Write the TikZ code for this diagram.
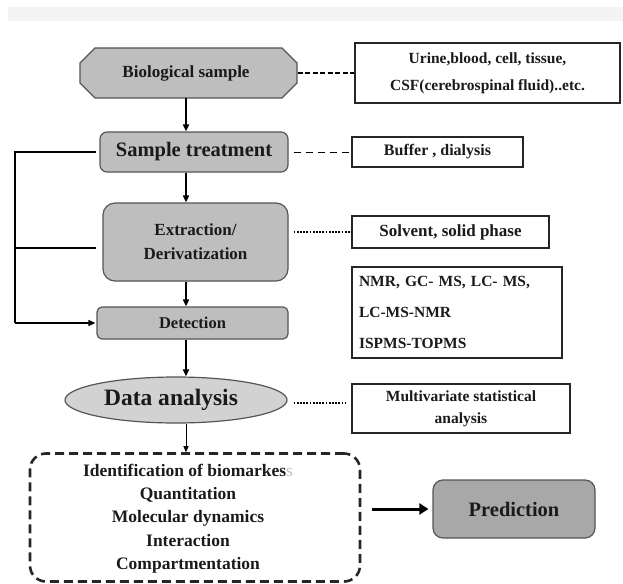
\documentclass[tikz,border=0pt]{standalone}
\usepackage{fontspec}
\setmainfont{Liberation Serif}
\usetikzlibrary{shapes.geometric,arrows.meta}
\definecolor{boxgray}{HTML}{BEBEBE}
\definecolor{predgray}{HTML}{A8A8A8}
\definecolor{ellgray}{HTML}{D2D2D2}
\definecolor{edge}{HTML}{555555}
\definecolor{ink}{HTML}{1A1A1A}
\definecolor{band}{HTML}{F4F4F4}
\newcommand\fsz[2]{\fontsize{#1}{#2}\selectfont}
\begin{document}
\begin{tikzpicture}[x=1pt,y=-1pt,
  every node/.style={text=ink},
  graybox/.style={draw=edge, line width=1.2pt, fill=boxgray, rounded corners=#1, inner sep=0pt},
  graybox/.default=6pt,
  infobox/.style={draw=black!85, line width=1.1pt, fill=white, inner sep=0pt},
  flow/.style={line width=1.8pt, draw=black, -{Triangle[length=7pt,width=6pt]}},
  thinflow/.style={line width=1pt, draw=black, -{Triangle[length=6pt,width=5pt]}},
  fbline/.style={line width=1.3pt, draw=black},
  dashA/.style={line width=1.6pt, dash pattern=on 5pt off 2.5pt},
  dashB/.style={line width=1pt, dash pattern=on 7pt off 5pt},
  dotsC/.style={line width=1.6pt, dash pattern=on 1.8pt off 1.4pt},
]
\useasboundingbox (0,0) rectangle (623,583);
\fill[band] (8,7) rectangle (623,21);

% Biological sample (octagon)
\draw[draw=edge, line width=1.2pt, fill=boxgray]
  (80,63) -- (95,48) -- (282,48) -- (297,63) -- (297,83) -- (282,98) -- (95,98) -- (80,83) -- cycle;
\node[inner sep=0pt, minimum width=217pt, minimum height=50pt, font=\bfseries\fsz{17}{20}] (bio) at (186,73) {Biological sample};

\node[infobox, minimum width=265pt, minimum height=60pt, align=center, font=\bfseries\fsz{15.5}{27}] (urine) at (487.5,73)
  {Urine,blood, cell, tissue,\\CSF(cerebrospinal fluid)..etc.};

% Sample treatment
\node[graybox=7pt, minimum width=188pt, minimum height=40pt, font=\bfseries\fsz{20.5}{24}] (st) at (194,152) {Sample treatment};
\node[infobox, minimum width=171pt, minimum height=30pt, font=\bfseries\fsz{16}{20}] (buffer) at (437.5,152) {Buffer , dialysis};

% Extraction
\node[graybox=12pt, minimum width=185pt, minimum height=78pt, align=center, font=\bfseries\fsz{17}{24}] (ext) at (195.5,242) {Extraction/\\Derivatization};
\node[infobox, minimum width=197pt, minimum height=32pt, font=\bfseries\fsz{17}{20}] (solvent) at (450.5,232) {Solvent, solid phase};

% Detection
\node[graybox=5pt, minimum width=191pt, minimum height=32pt, font=\bfseries\fsz{16.5}{20}] (det) at (192.5,323) {Detection};
\node[infobox, minimum width=210pt, minimum height=91pt, text width=196pt, align=left, font=\bfseries\fsz{15.5}{31}] (nmr) at (457,312.5)
  {NMR, GC- MS, LC- MS,\\LC-MS-NMR\\ISPMS-TOPMS};

% Data analysis
\node[ellipse, draw=edge, line width=1.2pt, fill=ellgray, inner sep=0pt, minimum width=222pt, minimum height=46pt] (data) at (176,400) {};
\node[inner sep=0pt, font=\bfseries\fsz{23.5}{26}] (datatext) at (171,400) {Data analysis};
\node[infobox, minimum width=218pt, minimum height=49pt, align=center, font=\bfseries\fsz{15.5}{22}] (multi) at (461,408.5)
  {Multivariate statistical\\analysis};

% Results
\node[draw=black!85, line width=2.6pt, dash pattern=on 9pt off 5pt, rounded corners=16pt, inner sep=0pt, minimum width=330pt, minimum height=128pt] (result) at (195,517.5) {};
\node[align=center, inner sep=0pt, font=\bfseries\fsz{17.5}{23.2}] (restext) at (188,518.5)
  {Identification of  biomarkes\textcolor{black!25}{\mdseries s}\\Quantitation\\Molecular dynamics\\Interaction\\Compartmentation};
\node[graybox=10pt, fill=predgray, minimum width=162pt, minimum height=58pt, font=\bfseries\fsz{20.5}{24}] (pred) at (514,509) {Prediction};

% flow arrows
\coordinate (ax) at (186,0);
\draw[flow] (bio.south -| ax) -- (st.north -| ax);
\draw[flow] (st.south -| ax) -- (ext.north -| ax);
\draw[flow] (ext.south -| ax) -- (det.north -| ax);
\draw[flow] (det.south -| ax) -- (data.north -| ax);
\draw[thinflow] (data.south -| ax) -- (result.north -| ax);
\draw[line width=3pt, -{Triangle[length=9pt,width=11pt]}, shorten <=11pt, shorten >=4pt] (pred.west -| result.east) -- (pred.west);

% feedback lines
\coordinate (L) at (15,152);
\coordinate (extin) at ([shift={(-6pt,-6pt)}]ext.west);
\draw[fbline] ([xshift=-3pt]st.west) -- (st.west -| L) -- (L |- det.west);
\draw[fbline] (extin) -- (extin -| L);
\draw[fbline, -{Triangle[length=7pt,width=6pt]}] (L |- det.west) -- ([xshift=-1pt]det.west);

% dashed connectors
\draw[dashA, shorten <=3pt] (bio.east) -- (urine.west);
\draw[dashB, shorten <=5pt] (st.east) -- (buffer.west);
\draw[dotsC, shorten <=5pt] (solvent.west -| ext.east) -- (solvent.west);
\draw[dotsC, shorten <=6pt, shorten >=5pt] ([yshift=-3pt]data.east) -- ([yshift=-3pt]data.east -| multi.west);
\end{tikzpicture}
\end{document}
